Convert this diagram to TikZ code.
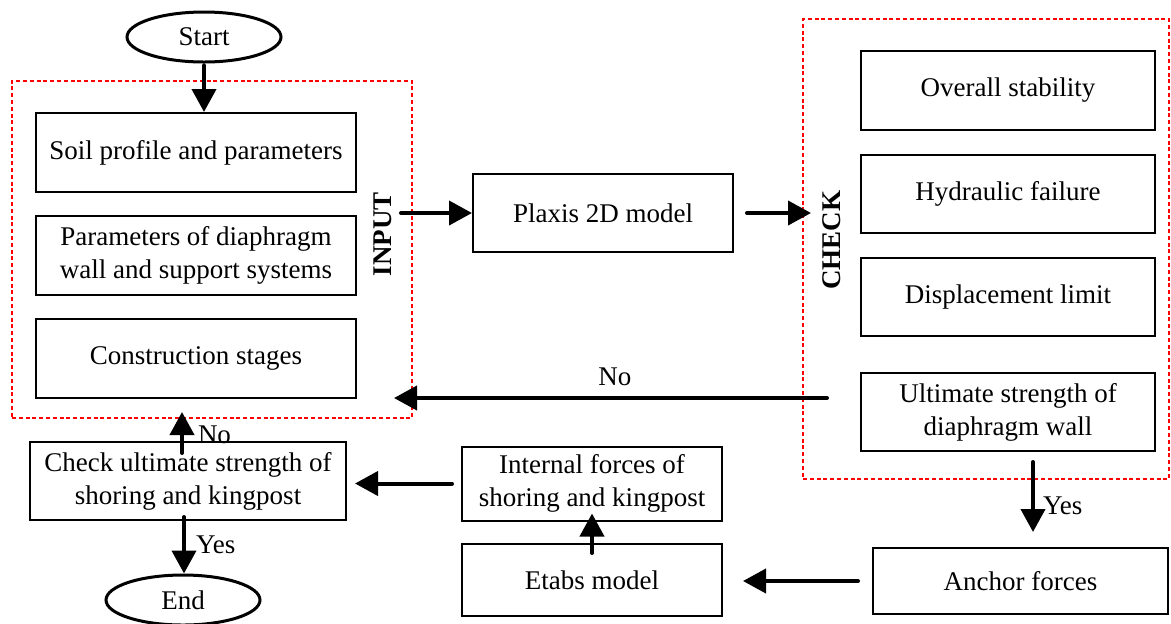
\documentclass[tikz,border=0pt]{standalone}
\usepackage{fontspec}
\setmainfont{Liberation Serif}
\usetikzlibrary{positioning,arrows.meta,shapes.geometric}

\tikzset{
	blk/.style={draw,line width=1pt,align=center,inner sep=2pt,font=\fontsize{13.5}{16.5}\selectfont},
	term/.style={ellipse,draw,line width=1.5pt,minimum width=77pt,minimum height=25pt,inner sep=0pt,font=\fontsize{13.5}{16.5}\selectfont},
	grp/.style={draw=red,line width=1pt,dash pattern=on 2pt off 1.4pt,inner sep=0pt},
	flow/.style={line width=2pt,line cap=round,-{Triangle[width=12pt,length=11.5pt]}},
	lbl/.style={font=\fontsize{13.5}{16.5}\selectfont,inner sep=2pt},
	tag/.style={font=\fontsize{13.5}{16.5}\selectfont\bfseries,rotate=90}
}

\begin{document}
\begin{tikzpicture}[x=0.5pt,y=-0.5pt]
	\useasboundingbox (0,0) rectangle (1171,623);

	% dashed groups
	\node[grp,minimum width=200pt,minimum height=168.5pt] (inbox) at (212,249.5) {};
	\node[grp,minimum width=183pt,minimum height=230pt] (chkbox) at (986,249) {};
	\node[tag] (intag) at (383,234) {INPUT};
	\node[tag] (chktag) at (832,240) {CHECK};

	% terminals
	\node[term] (start) at (204,37) {Start};
	\node[term] (end) at (183,600) {End};

	% input column
	\node[blk,minimum width=160pt,minimum height=39.5pt] (soil) at (196,152.5) {Soil profile and parameters};
	\node[blk,minimum width=160pt,minimum height=39.5pt] (param) at (196,255.5) {Parameters of diaphragm\\wall and support systems};
	\node[blk,minimum width=160pt,minimum height=39.5pt] (stages) at (196,358.5) {Construction stages};

	\node[blk,minimum width=130pt,minimum height=39pt] (plaxis) at (603,213) {Plaxis 2D model};

	% check column
	\node[blk,minimum width=147pt,minimum height=39.5pt] (overall) at (1008,90.5) {Overall stability};
	\node[blk,minimum width=147pt,minimum height=39pt] (hydro) at (1008,194) {Hydraulic failure};
	\node[blk,minimum width=147pt,minimum height=39pt] (displ) at (1008,297) {Displacement limit};
	\node[blk,minimum width=147pt,minimum height=39pt] (ultim) at (1008,412) {Ultimate strength of\\diaphragm wall};

	% bottom row
	\node[blk,minimum width=147.5pt,minimum height=33pt] (anchor) at (1020.5,581) {Anchor forces};
	\node[blk,minimum width=130pt,minimum height=36pt] (etabs) at (592,580) {Etabs model};
	\node[blk,minimum width=130pt,minimum height=37pt] (intern) at (592,483.5) {Internal forces of\\shoring and kingpost};
	\node[blk,minimum width=158pt,minimum height=39pt] (chkult) at (188,481) {Check ultimate strength of\\shoring and kingpost};

	% connectors
	\draw[flow] ([yshift=-1pt]start.south) -- (start.south |- soil.north);
	\draw[flow] ([xshift=-6pt]inbox.east |- plaxis.west) -- (plaxis.west);
	\draw[flow] ([xshift=6.5pt]plaxis.east) -- ([xshift=4.5pt]chkbox.west |- plaxis.east);
	\draw[flow] ([xshift=12.5pt,yshift=7pt]chkbox.west |- ultim.west) -- ([xshift=-9.5pt,yshift=7pt]inbox.east |- ultim.west)
		node[lbl,pos=0.49,above=3pt] {No};
	\draw[flow] ([xshift=12.5pt,yshift=-5pt]ultim.south) -- ([xshift=12.5pt,yshift=7.5pt]ultim.south |- anchor.north)
		node[lbl,pos=0.62,right=2pt] {Yes};
	\draw[flow] ([xshift=-7pt]anchor.west) -- ([xshift=10pt]etabs.east |- anchor.west);
	\draw[flow] ([yshift=-5pt]etabs.north) -- ([yshift=4pt]intern.south);
	\draw[flow] ([xshift=-4.5pt]intern.west) -- ([xshift=4pt]chkult.east |- intern.west);
	\draw[flow] ([xshift=-3pt,yshift=-6pt]chkult.north) -- ([xshift=-3pt,yshift=3.5pt]chkult.north |- inbox.south)
		node[lbl,pos=0.45,right=5pt] {No};
	\draw[flow] ([xshift=-2pt,yshift=2pt]chkult.south) -- ([xshift=-2pt]chkult.south |- end.north)
		node[lbl,pos=0.5,right=3pt] {Yes};
\end{tikzpicture}
\end{document}
